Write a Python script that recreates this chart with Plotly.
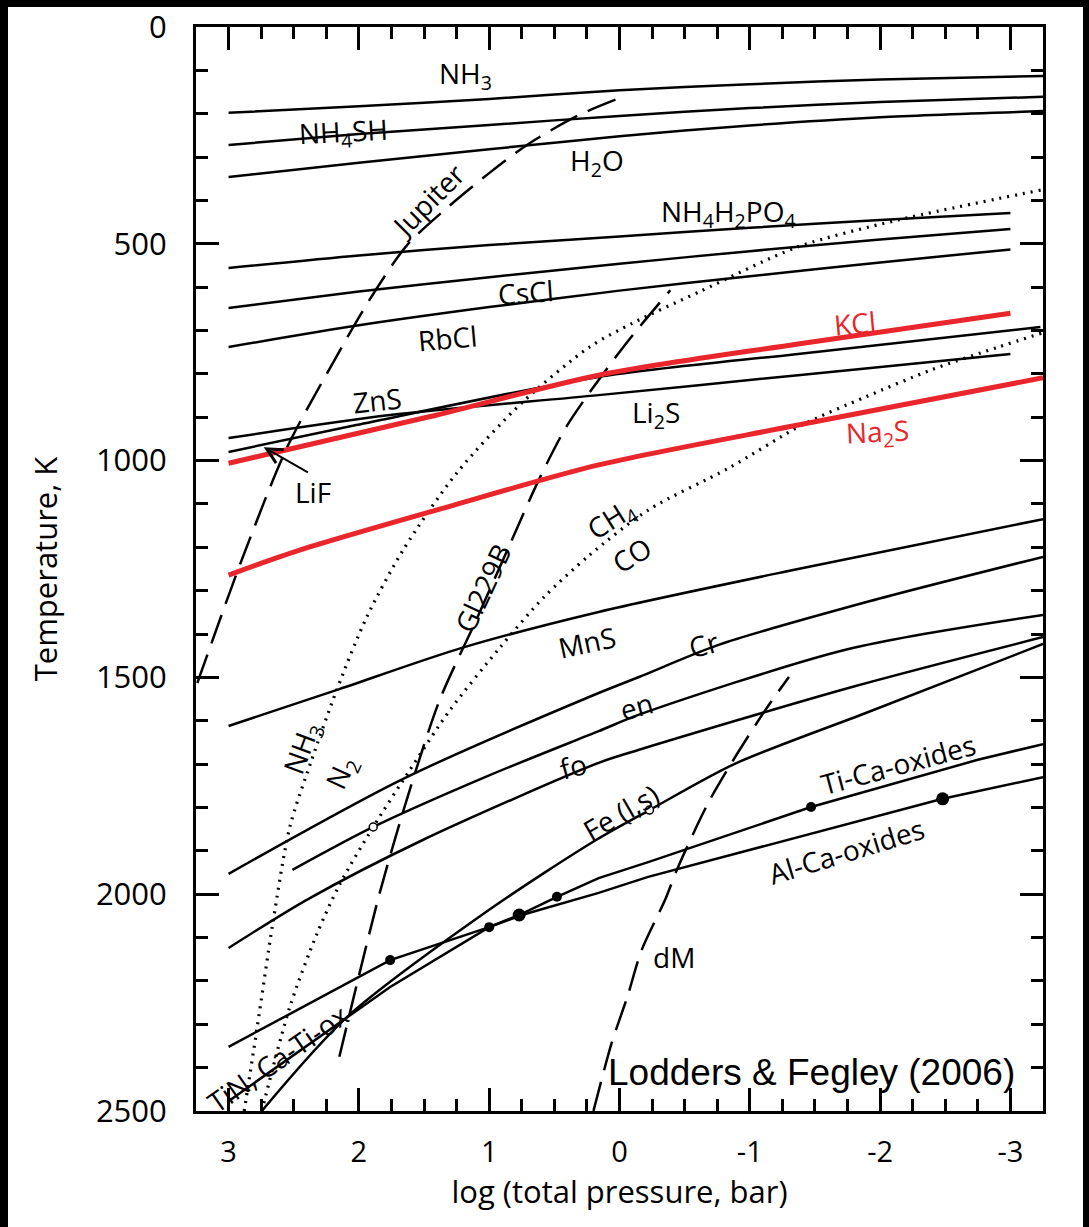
import plotly.graph_objects as go

# ---------------- data (log10 P [bar], T [K]) ----------------
nh3_p = [3.0, 2.0, 1.0, 0.0, -1.0, -2.0, -3.25]
nh3_t = [198, 183, 166, 146, 132, 121, 113]

nh4sh_p = [3.0, 2.0, 1.0, 0.0, -1.0, -2.0, -3.25]
nh4sh_t = [272, 247, 226, 205, 187, 173, 161]

h2o_p = [3.0, 2.0, 1.0, 0.0, -1.0, -2.0, -3.25]
h2o_t = [346, 313, 282, 252, 227, 208, 194]

nh4h2po4_p = [3.0, 2.0, 1.0, 0.0, -1.0, -2.0, -3.0]
nh4h2po4_t = [556, 527, 503, 483, 463, 445, 429]

cscl_p = [3.0, 2.0, 1.0, 0.0, -1.0, -2.0, -3.0]
cscl_t = [648, 610, 577, 546, 517, 490, 466]

rbcl_p = [3.0, 2.0, 1.0, 0.0, -1.0, -2.0, -3.0]
rbcl_t = [738, 688, 646, 608, 575, 543, 513]

zns_p = [3.0, 1.76, 0.16, -1.37, -3.0]
zns_t = [948, 895, 849, 803, 754]

lif_p = [3.0, 2.02, 0.16, -1.37, -3.23]
lif_t = [980, 918, 807, 754, 692]

kcl_p = [3.0, 1.46, 0.16, -1.37, -3.0]
kcl_t = [1006, 899, 803, 731, 660]

na2s_p = [3.0, 2.45, 1.31, 0.16, -1.37, -3.25]
na2s_t = [1264, 1206, 1106, 1010, 918, 809]

mns_p = [3.0, 2.15, 1.21, 0.16, -1.37, -3.25]
mns_t = [1612, 1527, 1432, 1349, 1250, 1135]

cr_p = [3.0, 1.66, 0.16, -0.15, -0.76, -1.91, -3.25]
cr_t = [1953, 1734, 1536, 1499, 1425, 1325, 1222]

en_p = [2.51, 1.89, 1.0, 0.16, -0.15, -1.75, -3.25]
en_t = [1944, 1845, 1726, 1624, 1586, 1435, 1356]

fo_p = [3.0, 2.40, 1.51, 0.16, -0.15, -1.75, -3.25]
fo_t = [2124, 2013, 1875, 1697, 1667, 1525, 1407]

fe_p = [2.745, 2.09, 1.00, 0.18, -0.23, -0.88, -1.89, -3.25]
fe_t = [2500, 2283, 2036, 1875, 1806, 1700, 1582, 1423]

tica_p = [3.0, 1.76, 1.0, 0.77, 0.48, 0.16, -0.22, -1.47, -2.75, -3.25]
tica_t = [2352, 2152, 2076, 2048, 2006, 1963, 1926, 1799, 1690, 1654]

alca_p = [2.99, 2.09, 1.76, 1.0, 0.75, 0.16, -0.22, -2.48, -3.25]
alca_t = [2475, 2283, 2214, 2076, 2048, 1997, 1960, 1780, 1730]

# chemical equilibrium boundaries (dotted)
nh3n2_p = [2.88, 2.78, 2.66, 2.53, 2.37, 2.17, 1.94, 1.66, 1.25, 0.75, 0.23, -0.10, -0.61, -1.37, -2.14, -3.25]
nh3n2_t = [2500, 2306, 2066, 1845, 1697, 1529, 1361, 1206, 1029, 867, 738, 683, 611, 507, 445, 375]

ch4co_p = [2.745, 2.53, 2.32, 2.15, 1.89, 1.61, 1.30, 0.92, 0.58, 0.23, -0.22, -0.84, -1.40, -1.89, -2.39, -2.91, -3.25]
ch4co_t = [2500, 2260, 2090, 1979, 1845, 1714, 1575, 1432, 1315, 1218, 1114, 1017, 918, 853, 791, 738, 705]

# model atmosphere profiles (dashed)
jup_p = [3.24, 2.89, 2.55, 2.20, 1.92, 1.63, 1.30, 1.00, 0.69, 0.31, 0.00]
jup_t = [1513, 1222, 969, 775, 630, 503, 411, 337, 268, 203, 164]

gl_p = [2.15, 1.84, 1.61, 1.38, 1.10, 0.85, 0.62, 0.41, 0.16, -0.09, -0.39]
gl_t = [2375, 1997, 1760, 1552, 1368, 1199, 1045, 923, 814, 715, 607]

dm_p = [0.20, 0.06, -0.06, -0.17, -0.35, -0.45, -0.68, -0.86, -1.12, -1.30]
dm_t = [2500, 2343, 2237, 2129, 2013, 1937, 1790, 1697, 1575, 1499]

# marked points
dots_p = [1.76, 1.0, 0.48, -1.47]
dots_t = [2152, 2076, 2006, 1799]
bigdots_p = [0.77, -2.48]
bigdots_t = [2048, 1780]
open_p = [1.89, -0.23]
open_t = [1845, 1806]

x_ticks = [3, 2, 1, 0, -1, -2, -3]
x_labels = ["3", "2", "1", "0", "-1", "-2", "-3"]
x_minor = [v / 4 for v in range(-12, 13) if v % 4 != 0]
y_ticks = [0, 500, 1000, 1500, 2000, 2500]
y_minor = [v for v in range(100, 2500, 100) if v % 500 != 0]

RED = "#e8262b"
FONT = "Open Sans"

# labels: text, logP, T, angle, color
labels = [
    ("NH<sub>3</sub>", 1.18, 111, 0, "black"),
    ("NH<sub>4</sub>SH", 2.12, 245, -3, "black"),
    ("H<sub>2</sub>O", 0.17, 311, 0, "black"),
    ("NH<sub>4</sub>H<sub>2</sub>PO<sub>4</sub>", -0.84, 429, 0, "black"),
    ("CsCl", 0.72, 611, -4, "black"),
    ("RbCl", 1.32, 717, -5, "black"),
    ("ZnS", 1.86, 860, -6, "black"),
    ("KCl", -1.81, 683, -5, RED),
    ("Li<sub>2</sub>S", -0.28, 893, 0, "black"),
    ("Na<sub>2</sub>S", -1.98, 936, -3, RED),
    ("LiF", 2.35, 1072, 0, "black"),
    ("CH<sub>4</sub>", 0.06, 1137, -32, "black"),
    ("CO", -0.09, 1218, -32, "black"),
    ("Gl229B", 1.05, 1294, -65, "black"),
    ("Jupiter", 1.47, 399, -45, "black"),
    ("MnS", 0.25, 1418, -12, "black"),
    ("Cr", -0.65, 1423, -15, "black"),
    ("en", -0.13, 1566, -15, "black"),
    ("fo", 0.36, 1704, -15, "black"),
    ("Fe (l,s)", -0.01, 1810, -30, "black"),
    ("Ti-Ca-oxides", -2.14, 1700, -15, "black"),
    ("Al-Ca-oxides", -1.74, 1900, -17, "black"),
    ("dM", -0.42, 2145, 0, "black"),
    ("TiN, Ca-Ti-ox", 2.62, 2378, -35, "black"),
    ("NH<sub>3</sub>", 2.43, 1663, -70, "black"),
    ("N<sub>2</sub>", 2.13, 1721, -65, "black"),
]

fig = go.Figure()


def add_line(x, y, color="black", width=2.5, dash="solid", shape="spline"):
    fig.add_trace(go.Scatter(
        x=x, y=y, mode="lines", hoverinfo="skip",
        line=dict(color=color, width=width, dash=dash, shape=shape, smoothing=0.8),
    ))


for px_, ty_ in [(nh3_p, nh3_t), (nh4sh_p, nh4sh_t), (h2o_p, h2o_t),
                 (nh4h2po4_p, nh4h2po4_t), (cscl_p, cscl_t), (rbcl_p, rbcl_t),
                 (zns_p, zns_t), (lif_p, lif_t), (mns_p, mns_t), (cr_p, cr_t),
                 (en_p, en_t), (fo_p, fo_t), (fe_p, fe_t)]:
    add_line(px_, ty_)
add_line(tica_p, tica_t, shape="linear")
add_line(alca_p, alca_t, shape="linear")

add_line(nh3n2_p, nh3n2_t, width=3.2, dash="2px,6px")
add_line(ch4co_p, ch4co_t, width=3.2, dash="2px,6px")

add_line(jup_p, jup_t, width=2.5, dash="30px,12px")
add_line(gl_p, gl_t, width=2.5, dash="30px,12px")
add_line(dm_p, dm_t, width=2.5, dash="30px,12px")

add_line(kcl_p, kcl_t, color=RED, width=5)
add_line(na2s_p, na2s_t, color=RED, width=5)

fig.add_trace(go.Scatter(x=dots_p, y=dots_t, mode="markers", hoverinfo="skip",
                         marker=dict(color="black", size=10)))
fig.add_trace(go.Scatter(x=bigdots_p, y=bigdots_t, mode="markers", hoverinfo="skip",
                         marker=dict(color="black", size=13)))
fig.add_trace(go.Scatter(x=open_p, y=open_t, mode="markers", hoverinfo="skip",
                         marker=dict(color="white", size=8, line=dict(color="black", width=1.5))))

for text, x, y, ang, col in labels:
    fig.add_annotation(x=x, y=y, xref="x", yref="y", text=text, showarrow=False,
                       textangle=ang, font=dict(family=FONT, size=28, color=col))

# LiF arrow
fig.add_annotation(x=2.73, y=969, ax=2.38, ay=1029, xref="x", yref="y", axref="x", ayref="y",
                   text="", showarrow=True, arrowhead=5, arrowsize=1.5, arrowwidth=2,
                   arrowcolor="black")

fig.add_annotation(x=-1.47, y=2412, xref="x", yref="y", text="Lodders & Fegley (2006)",
                   showarrow=False, font=dict(family="Liberation Sans", size=37, color="black"))

# black frame around the picture
frame = dict(type="rect", xref="paper", yref="paper", fillcolor="black",
             line=dict(width=0), layer="above")
fig.add_shape(**frame, x0=-0.4, x1=(8 - 196) / 847, y0=-0.3, y1=1.2)
fig.add_shape(**frame, x0=-0.4, x1=1.2, y0=(1111 - 7) / 1084, y1=1.2)
fig.add_shape(**frame, x0=(1083 - 196) / 847, x1=1.2, y0=-0.3, y1=1.2)

axis_common = dict(showline=True, linecolor="black", linewidth=3, mirror="ticks",
                   ticks="inside", ticklen=23, tickwidth=2.5, tickcolor="black",
                   showgrid=False, zeroline=False, automargin=False)

fig.update_layout(
    width=1089, height=1227,
    margin=dict(l=196, r=46, t=27, b=116),
    paper_bgcolor="white", plot_bgcolor="white",
    showlegend=False,
    xaxis=dict(range=[3.25, -3.25], tickmode="array", tickvals=x_ticks, ticktext=x_labels,
               tickfont=dict(family=FONT, size=29, color="black"),
               ticklabelstandoff=13,
               minor=dict(tickmode="array", tickvals=x_minor, ticks="inside", ticklen=12,
                          tickwidth=2.5, tickcolor="black"),
               title=dict(text="log (total pressure, bar)", standoff=0,
                          font=dict(family=FONT, size=31, color="black")),
               **axis_common),
    yaxis=dict(range=[2500, 0], tickmode="array", tickvals=y_ticks,
               ticktext=[str(v) for v in y_ticks],
               tickfont=dict(family=FONT, size=31, color="black"),
               ticklabelstandoff=20,
               minor=dict(tickmode="array", tickvals=y_minor, ticks="inside", ticklen=12,
                          tickwidth=2.5, tickcolor="black"),
               title=dict(text="Temperature, K", standoff=30,
                          font=dict(family=FONT, size=31, color="black")),
               **axis_common),
)

fig.write_html("out.html")
